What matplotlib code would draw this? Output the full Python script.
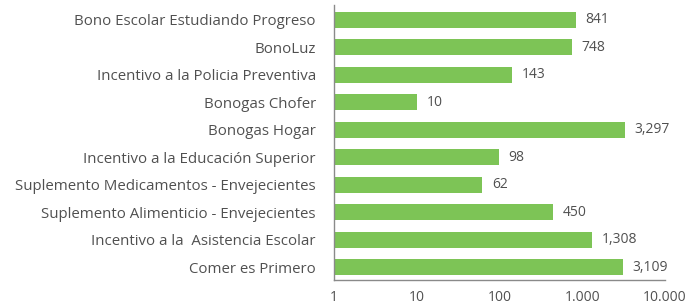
import matplotlib
matplotlib.use("Agg")
import matplotlib.pyplot as plt
from matplotlib.ticker import FixedLocator, FixedFormatter, NullLocator

categories = [
    "Bono Escolar Estudiando Progreso",
    "BonoLuz",
    "Incentivo a la Policia Preventiva",
    "Bonogas Chofer",
    "Bonogas Hogar",
    "Incentivo a la Educación Superior",
    "Suplemento Medicamentos - Envejecientes",
    "Suplemento Alimenticio - Envejecientes",
    "Incentivo a la  Asistencia Escolar",
    "Comer es Primero",
]
values = [841, 748, 143, 10, 3297, 98, 62, 450, 1308, 3109]
value_labels = ["841", "748", "143", "10", "3,297", "98", "62", "450", "1,308", "3,109"]
tick_values = [1, 10, 100, 1000, 10000]
tick_labels = ["1", "10", "100", "1.000", "10.000"]

plt.rcParams['font.family'] = ['Open Sans', 'DejaVu Sans']

fig = plt.figure(figsize=(6.92, 3.06), dpi=100)
ax = fig.add_axes([0.4827, 0.085, 0.478, 0.899])

pos = list(range(len(categories)))
ax.barh(pos, values, height=0.58, color="#7dc456", left=0)
ax.set_xscale("log")
ax.set_xlim(1, 10000)
ax.set_ylim(len(categories) - 1 + 0.47, -0.55)

ax.xaxis.set_major_locator(FixedLocator(tick_values))
ax.xaxis.set_major_formatter(FixedFormatter(tick_labels))
ax.xaxis.set_minor_locator(NullLocator())
ax.set_yticks(pos)
ax.set_yticklabels(categories)

ax.tick_params(axis="both", length=0, colors="#505050", labelsize=10.8)
ax.tick_params(axis="x", labelsize=10)
ax.tick_params(axis="y", pad=13)
ax.tick_params(axis="x", pad=7)

for s in ["top", "right"]:
    ax.spines[s].set_visible(False)
for s in ["left", "bottom"]:
    ax.spines[s].set_color("#8a8a8a")
    ax.spines[s].set_linewidth(1.0)

for p, v, lab in zip(pos, values, value_labels):
    ax.annotate(lab, xy=(v, p), xytext=(7, 0), textcoords="offset points",
                va="center", ha="left", fontsize=10, color="#505050")

fig.savefig("out.png", dpi=100)
